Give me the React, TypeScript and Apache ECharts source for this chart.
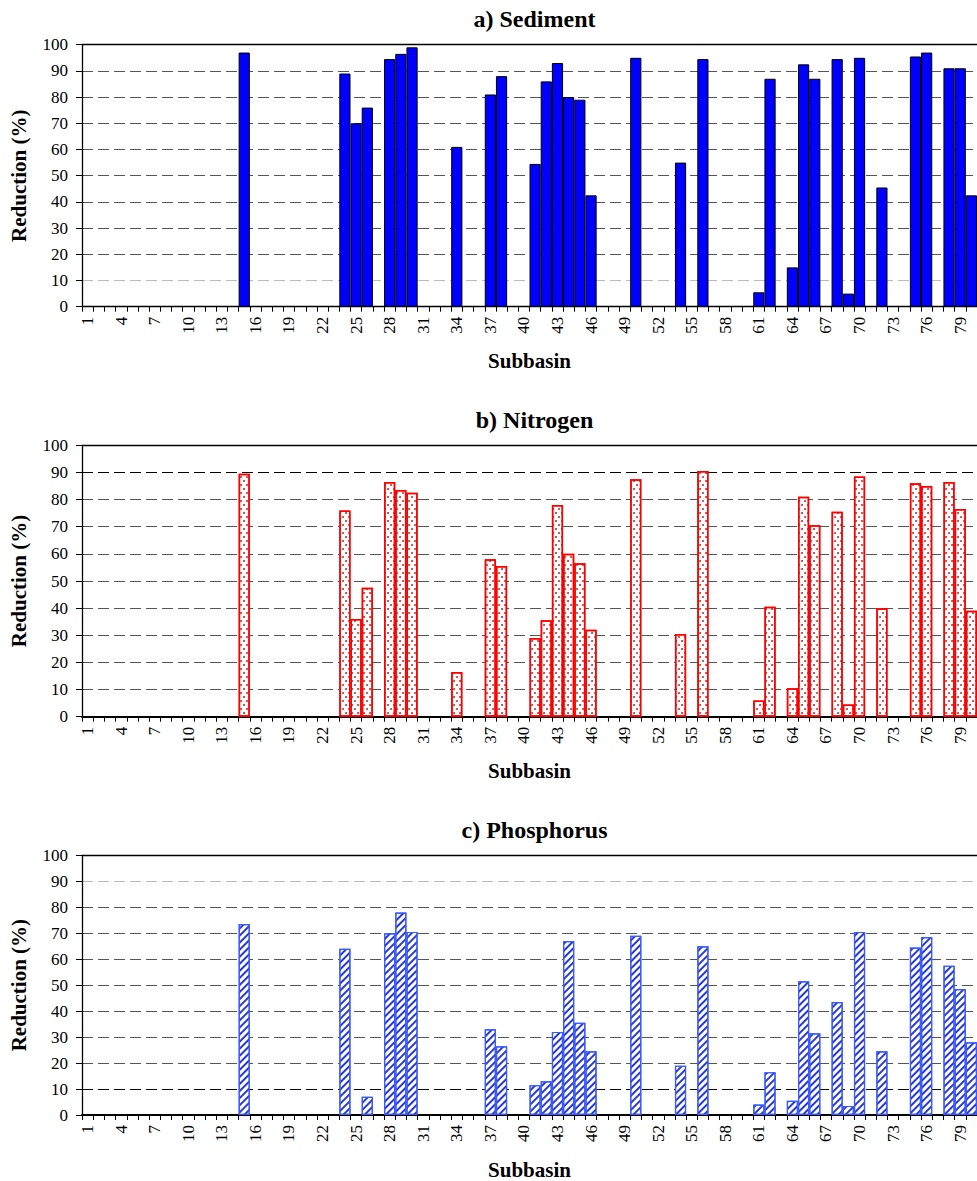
import React, { useEffect, useRef } from "react";
import * as echarts from "echarts";

// Categories: subbasins 1..80
const SUBBASINS: string[] = Array.from({ length: 80 }, (_, i) => String(i + 1));

// Subbasins that received a value (all other subbasins are 0)
const BAR_SUBBASINS = [15, 24, 25, 26, 28, 29, 30, 34, 37, 38, 41, 42, 43, 44, 45, 46, 50, 54, 56, 61, 62, 64, 65, 66, 68, 69, 70, 72, 75, 76, 78, 79, 80];

// Reduction (%) per subbasin above
const SEDIMENT = [97, 89, 70, 76, 94.5, 96.5, 99, 61, 81, 88, 54.5, 86, 93, 80, 79, 42.5, 95, 55, 94.5, 5.5, 87, 15, 92.5, 87, 94.5, 5, 95, 45.5, 95.5, 97, 91, 91, 42.5];
const NITROGEN = [89.5, 76, 36, 47.5, 86.5, 83.5, 82.5, 16.5, 58, 55.5, 29, 35.5, 78, 60, 56.5, 32, 87.5, 30.5, 90.5, 6, 40.5, 10.5, 81, 70.5, 75.5, 4.5, 88.5, 40, 86, 85, 86.5, 76.5, 39];
const PHOSPHORUS = [73.5, 64, 0, 7, 70, 78, 70.5, 0, 33, 26.5, 11.5, 13, 32, 67, 35.5, 24.5, 69, 19, 65, 4, 16.5, 5.5, 51.5, 31.5, 43.5, 3.5, 70.5, 24.5, 64.5, 68.5, 57.5, 48.5, 28];

const TITLES = ["a) Sediment", "b) Nitrogen", "c) Phosphorus"];
const Y_NAME = "Reduction (%)";
const X_NAME = "Subbasin";

const FONT = "Liberation Serif";

function expand(vals: number[]): (number | string)[] {
  const out: (number | string)[] = SUBBASINS.map(() => "-");
  BAR_SUBBASINS.forEach((s, i) => {
    out[s - 1] = vals[i] > 0 ? vals[i] : "-";
  });
  return out;
}

const G = "#555";
const PANELS = [
  { top: 44.7, height: 262, grid: [G, "#bbb", G, G, G, G, G, G, G, G, G] },
  { top: 445.3, height: 271.4, grid: [G, G, G, G, G, G, G, G, G, "#000", G] },
  { top: 855.3, height: 262.4, grid: [G, "#000", G, G, G, G, G, G, G, "#bbb", G] },
];

export default function App() {
  const ref = useRef<HTMLDivElement>(null);

  useEffect(() => {
    if (!ref.current) return;
    const chart = echarts.init(ref.current, null, { renderer: "svg" });

    const grids = PANELS.map((p) => ({ left: 82, width: 895, top: p.top, height: p.height, containLabel: false }));

    const xAxes: any[] = [];
    const yAxes: any[] = [];
    PANELS.forEach((p, i) => {
      xAxes.push({
        type: "category",
        gridIndex: i,
        data: SUBBASINS,
        boundaryGap: true,
        name: X_NAME,
        nameLocation: "middle",
        nameGap: 44,
        nameTextStyle: { fontFamily: FONT, fontSize: 21, fontWeight: "bold", color: "#000" },
        axisLine: { show: true, lineStyle: { color: "#000", width: i === 0 ? 1.3 : 2.2 } },
        axisTick: { show: true, interval: 0, length: 5, lineStyle: { color: "#000", width: 1 } },
        axisLabel: { interval: 2, rotate: 90, margin: 10, fontFamily: FONT, fontSize: 17, color: "#000" },
        splitLine: { show: false },
      });
      xAxes.push({
        type: "category",
        gridIndex: i,
        position: "top",
        data: SUBBASINS,
        axisLine: { show: true, lineStyle: { color: "#000", width: 1.3 } },
        axisTick: { show: false },
        axisLabel: { show: false },
        splitLine: { show: false },
      });
      yAxes.push({
        type: "value",
        gridIndex: i,
        min: 0,
        max: 100,
        interval: 10,
        name: Y_NAME,
        nameLocation: "middle",
        nameGap: 53,
        nameTextStyle: { fontFamily: FONT, fontSize: 21, fontWeight: "bold", color: "#000" },
        axisLine: { show: true, lineStyle: { color: "#000", width: 1.3 } },
        axisTick: { show: true, length: 6, lineStyle: { color: "#000" } },
        axisLabel: { margin: 14, fontFamily: FONT, fontSize: 17, color: "#000" },
        splitLine: { show: true, lineStyle: { color: p.grid, width: 1.2, type: [11, 5] } },
      });
    });

    const option: any = {
      animation: false,
      backgroundColor: "#fff",
      textStyle: { fontFamily: FONT },
      title: TITLES.map((t, i) => ({
        text: t,
        left: 529.5,
        textAlign: "center",
        top: PANELS[i].top - 42.5,
        textStyle: { fontFamily: FONT, fontSize: 24, fontWeight: "bold", color: "#000" },
      })),
      grid: grids,
      xAxis: xAxes,
      yAxis: yAxes,
      series: [
        {
          name: TITLES[0],
          type: "bar",
          xAxisIndex: 0,
          yAxisIndex: 0,
          data: expand(SEDIMENT),
          barCategoryGap: "0%",
          itemStyle: { color: "#0000ff", borderColor: "#000", borderWidth: 1 },
        },
        {
          name: TITLES[1],
          type: "bar",
          xAxisIndex: 2,
          yAxisIndex: 1,
          data: expand(NITROGEN),
          barCategoryGap: "0%",
          itemStyle: {
            color: "#fff",
            borderColor: "#ff0000",
            borderWidth: 1.5,
            decal: {
              symbol: "circle",
              symbolSize: 0.9,
              color: "#c01818",
              backgroundColor: "#fff4f4",
              dashArrayX: [[2, 4], [0, 3, 2, 1]],
              dashArrayY: [2, 1.2],
            },
          },
        },
        {
          name: TITLES[2],
          type: "bar",
          xAxisIndex: 4,
          yAxisIndex: 2,
          data: expand(PHOSPHORUS),
          barCategoryGap: "0%",
          itemStyle: {
            color: "#fff",
            borderColor: "#3a5cff",
            borderWidth: 1.2,
            decal: {
              symbol: "rect",
              symbolSize: 1,
              color: "#2a3ad0",
              backgroundColor: "#f4f6ff",
              dashArrayX: [1, 0],
              dashArrayY: [1.6, 2.6],
              rotation: -Math.PI / 4,
            },
          },
        },
      ],
    };

    chart.setOption(option);
    return () => chart.dispose();
  }, []);

  return (
    <div
      ref={ref}
      style={{ position: "absolute", left: 0, top: 0, width: 977, height: 1181, background: "#fff" }}
    />
  );
}
